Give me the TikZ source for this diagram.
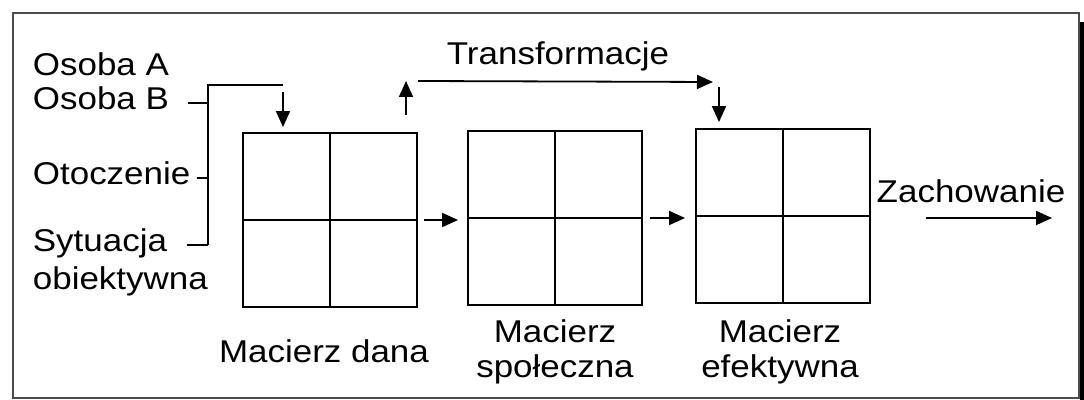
\documentclass[tikz,border=0pt]{standalone}
\usepackage{fontspec}
\setmainfont[FakeStretch=1.11]{Liberation Sans}
\usetikzlibrary{arrows.meta}

\tikzset{
  lbl/.style={inner sep=0pt, font=\fontsize{15.75pt}{17.5pt}\selectfont},
  matbox/.style={draw, line width=0.9pt, minimum size=87pt, inner sep=0pt},
  tip/.style={-{Triangle[length=8pt,width=7pt]}, line width=0.9pt}
}

\begin{document}
\begin{tikzpicture}[x=0.5pt, y=-0.5pt, line width=0.9pt]
  \useasboundingbox (0,0) rectangle (1084,400);

  % frame with shadow on the right
  \fill[black] (1080,22) rectangle (1084,400);
  \draw[black!70, line width=1pt] (13,13) rectangle (1079,398);

  % the three matrices
  \node[matbox] (dana) at (330,220) {};
  \node[matbox] (spol) at (555,218) {};
  \node[matbox] (efek) at (783,216) {};
  \foreach \m in {dana,spol,efek} {
    \draw (\m.north) -- (\m.south);
    \draw (\m.west) -- (\m.east);
  }

  % names under the matrices (base = last line)
  \node[lbl, anchor=base] (ldana) at (324,363) {Macierz dana};
  \node[lbl, anchor=base, align=center] (lspol) at (555,378) {Macierz\\społeczna};
  \node[lbl, anchor=base, align=center] (lefek) at (780,378) {Macierz\\efektywna};

  % inputs on the left
  \node[lbl, anchor=base west] (osA) at (32,76) {Osoba A};
  \node[lbl, anchor=base west] (osB) at (32,110) {Osoba B};
  \node[lbl, anchor=base west] (otocz) at (32,185) {Otoczenie};
  \node[lbl, anchor=base west] (sit) at (32,252) {Sytuacja};
  \node[lbl, anchor=base west] (obiek) at (32,290) {obiektywna};

  % collecting line
  \coordinate (bus) at (208,85);
  \coordinate (in1) at (283,85);
  \draw ([xshift=9pt,yshift=1pt]osB.mid east) -- ([yshift=1pt]osB.mid -| bus);
  \draw ([xshift=3pt,yshift=1pt]otocz.mid east) -- ([yshift=1pt]otocz.mid -| bus);
  \draw ([xshift=9.5pt,yshift=1pt]sit.mid east) -- ([yshift=1pt]sit.mid -| bus);
  \draw ([yshift=1pt]sit.mid -| bus) -- (bus) -- (in1);
  \draw[tip, shorten >=2.5pt] ([yshift=-3.5pt]in1) -- (in1 |- dana.north);

  % transformations
  \coordinate (tr1) at (406,81);
  \coordinate (tr2) at (719,82);
  \draw[tip, shorten <=8.5pt] (tr1 |- dana.north) -- (tr1);
  \draw[tip] ([xshift=6pt]tr1) -- ([xshift=-3pt]tr2);
  \draw[tip, shorten >=3pt] ([yshift=-2.5pt]tr2) -- (tr2 |- efek.north);
  \node[lbl, anchor=base] (trans) at (558,65) {Transformacje};

  % between the matrices
  \draw[tip, shorten <=3pt, shorten >=4.5pt] (dana.east) -- (dana.east -| spol.west);
  \draw[tip, shorten <=3.5pt, shorten >=5pt] (spol.east) -- (spol.east -| efek.west);

  % output
  \coordinate (outZ) at (1052,218);
  \draw[tip, shorten <=27.5pt] (efek.east |- outZ) -- (outZ);
  \node[lbl, anchor=base] (zach) at (971,203) {Zachowanie};
\end{tikzpicture}
\end{document}
